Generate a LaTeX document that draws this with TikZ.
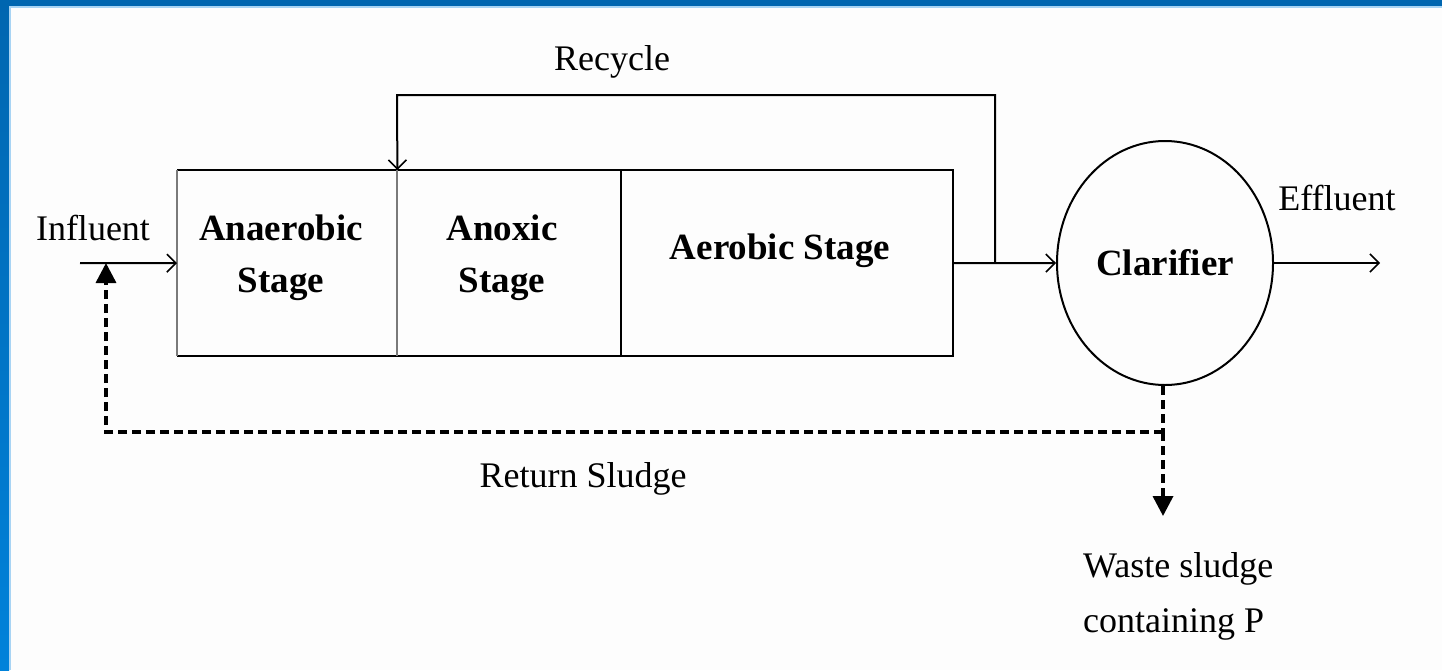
\documentclass[tikz,border=0pt]{standalone}
\usepackage{fontspec}
\setmainfont{Liberation Serif}
\usetikzlibrary{arrows.meta,shapes.geometric}
\definecolor{frameblue}{HTML}{0066B0}
\definecolor{framelow}{HTML}{0082DA}
\definecolor{edgeblue}{HTML}{A8D4F4}
\definecolor{paper}{HTML}{FDFDFD}
\definecolor{divgray}{HTML}{7A7A7A}
\begin{document}
\begin{tikzpicture}[x=1pt,y=-1pt,
  plain/.style={font=\fontsize{36}{55}\selectfont, inner sep=0pt},
  stagetext/.style={font=\bfseries\fontsize{37}{52}\selectfont, align=center, inner sep=0pt},
  stagebox/.style={draw=none, rectangle, minimum height=186pt, inner sep=0pt, anchor=north west},
  flow/.style={line width=2pt, -{Straight Barb[length=9pt,width=18pt,line width=1.6pt]}},
  sludge/.style={line width=3.5pt, dash pattern=on 9pt off 5pt},
  sludgetip/.style={-{Triangle[length=20pt,width=20pt]}}
]
% page and frame
\useasboundingbox (0,0) rectangle (1442,670);
\fill[paper] (0,0) rectangle (1442,670);
\shade[top color=frameblue, bottom color=framelow] (0,0) rectangle (9,670);
\fill[frameblue] (0,0) rectangle (1442,6);
\fill[edgeblue] (9,6) rectangle (11,670);
\fill[edgeblue] (9,6) rectangle (1442,8);

% tank stages
\node[stagebox, minimum width=220pt] (ana) at (177,170) {};
\node[stagebox, minimum width=224pt] (anx) at (397,170) {};
\node[stagebox, minimum width=332pt] (aer) at (621,170) {};
\draw[line width=2pt] (ana.north west) -- (aer.north east) -- (aer.south east) -- (ana.south west);
\draw[line width=2pt, divgray] (ana.north west) -- (ana.south west);
\draw[line width=2pt, divgray] (ana.north east) -- (ana.south east);
\draw[line width=2pt] (anx.north east) -- (anx.south east);

\node[stagetext] (anaT) at (281,258) {Anaerobic\\Stage};
\node[stagetext] (anxT) at (502,258) {Anoxic\\Stage};
\node[stagetext] (aerT) at (780,251) {Aerobic Stage};

% clarifier
\node[draw, line width=2pt, ellipse, minimum width=216pt, minimum height=244pt, inner sep=0pt,
      font=\bfseries\fontsize{37}{52}\selectfont] (clar) at (1165,263) {Clarifier};

% free ends and junctions
\coordinate (inf) at (80,263);
\coordinate (rj) at (995,263);
\coordinate (rtop) at (397,95);
\coordinate (eff) at (1380,263);
\coordinate (sj) at (1163,432);
\coordinate (rin) at (106,263);
\coordinate (waste) at (1163,516);

% process flow
\draw[flow] (inf) -- (ana.west);
\draw[flow] (aer.east) -- (clar.west);
\draw[flow] (rj) |- (rtop) -- (ana.north east);
\draw[flow] (clar.east) -- (eff);

% sludge lines
\draw[sludge] (clar.south -| sj) -- (sj);
\draw[sludge, sludgetip] (sj) -| (rin);
\draw[sludge, sludgetip] (sj) -- (waste);

% labels
\node[plain] (recL) at (612,62) {Recycle};
\node[plain] (infL) at (93,228) {Influent};
\node[plain] (effL) at (1337,198) {Effluent};
\node[plain] (retL) at (583,479) {Return Sludge};
\node[plain, align=left, anchor=west] (wasL) at (1083,596) {Waste sludge\\containing P};
\end{tikzpicture}
\end{document}
